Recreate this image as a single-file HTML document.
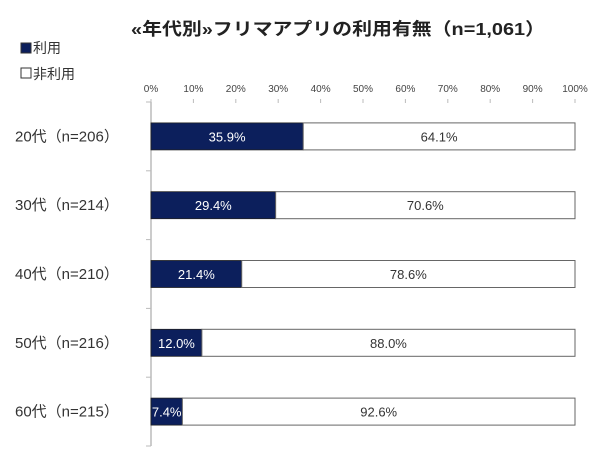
<!DOCTYPE html>
<html><head><meta charset="utf-8"><style>
body{margin:0;background:#fff;width:600px;height:464px;overflow:hidden;font-family:"Liberation Sans","Noto Sans CJK JP",sans-serif}
</style></head><body>
<svg width="600" height="464" font-family="Liberation Sans, Noto Sans CJK JP, sans-serif">
<text x="338" y="35" text-anchor="middle" font-size="17.5" font-weight="bold" fill="#222" textLength="414" lengthAdjust="spacingAndGlyphs">«年代別»フリマアプリの利用有無（n=1,061）</text>
<g>
<rect x="21" y="43" width="10" height="10" fill="#0c1f5c" stroke="#333"/>
<text x="33" y="53" font-size="14" fill="#333">利用</text>
<rect x="21" y="68" width="10" height="10" fill="#fff" stroke="#333"/>
<text x="33" y="79" font-size="14" fill="#333">非利用</text>
</g>
<g id="plot"></g>
</svg>
<script>
const categories=["20代（n=206）","30代（n=214）","40代（n=210）","50代（n=216）","60代（n=215）"];
const useVals=[35.9,29.4,21.4,12.0,7.4];
const nonUseVals=[64.1,70.6,78.6,88.0,92.6];
const ticks=[0,10,20,30,40,50,60,70,80,90,100];
const X0=151,X1=575,Y0=102,Y1=446;
const xs=v=>X0+(X1-X0)*v/100;
const band=(Y1-Y0)/categories.length;
const ns="http://www.w3.org/2000/svg";
const g=document.getElementById('plot');
function mk(t,a,txt){const e=document.createElementNS(ns,t);for(const k in a)e.setAttribute(k,a[k]);if(txt!=null)e.textContent=txt;g.appendChild(e);return e;}
let e=mk('line',{x1:X0,y1:Y0,x2:X0,y2:Y1,stroke:'#bbb','stroke-width':1.5});


ticks.forEach(t=>{
 let l=mk('line',{x1:xs(t),y1:Y0-3,x2:xs(t),y2:Y0+1,stroke:'#bbb'});
 
 
 let tx=mk('text',{x:xs(t),y:Y0-10,'text-anchor':'middle','font-size':'10',fill:'#444'},t+'%');
 
 
});
for(let i=0;i<=categories.length;i++){
 let l=mk('line',{x1:X0-5,y1:Y0+band*i,x2:X0,y2:Y0+band*i,stroke:'#bbb'});
 
 
}
categories.forEach((c,i)=>{
 const cy=Y0+band*(i+0.5), h=27, y=cy-h/2;
 let lb=mk('text',{x:15,y:cy+5,'font-size':'15',fill:'#333'},c);
 
 
 const u=useVals[i], n=nonUseVals[i];
 let r1=mk('rect',{x:xs(0),y:y,width:xs(u)-xs(0),height:h,fill:'#0c1f5c',stroke:'#222','stroke-width':0.8});
 
 
 let r2=mk('rect',{x:xs(u),y:y,width:xs(u+n)-xs(u),height:h,fill:'#fff',stroke:'#666','stroke-width':1});
 
 
 let t1=mk('text',{x:(xs(0)+xs(u))/2,y:cy+5,'text-anchor':'middle','font-size':'13',fill:'#fff'},u.toFixed(1)+'%');
 
 
 let t2=mk('text',{x:(xs(u)+xs(u+n))/2,y:cy+5,'text-anchor':'middle','font-size':'13',fill:'#333'},n.toFixed(1)+'%');
 
 
});
</script>
</body></html>
